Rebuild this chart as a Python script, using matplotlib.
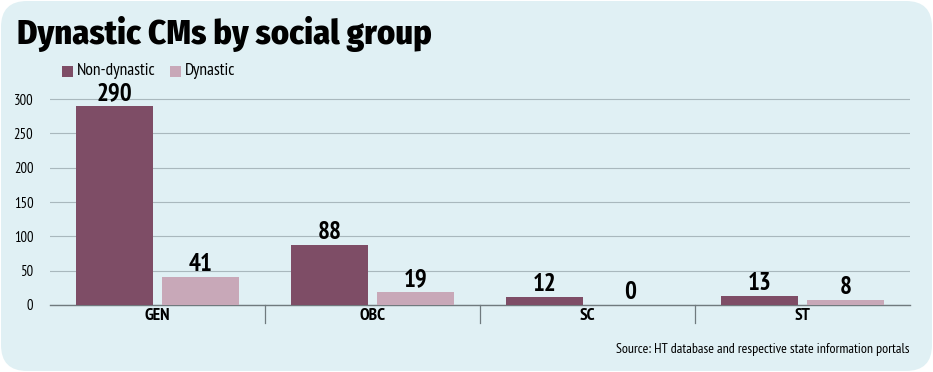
import matplotlib
matplotlib.use("Agg")
import matplotlib.pyplot as plt
from matplotlib.patches import FancyBboxPatch, Rectangle
from matplotlib import font_manager as fm
import numpy as np

categories = ["GEN", "OBC", "SC", "ST"]
non_dynastic = [290, 88, 12, 13]
dynastic = [41, 19, 0, 8]
series_names = ["Non-dynastic", "Dynastic"]
yticks = [0, 50, 100, 150, 200, 250, 300]

names = {f.name for f in fm.fontManager.ttflist}
prefs = ["PT Sans Narrow", "Fira Sans Condensed", "Roboto Condensed", "Open Sans Condensed",
         "Barlow Semi Condensed", "Asap Condensed", "Liberation Sans Narrow"]
narrow = next((p for p in prefs if p in names), "DejaVu Sans")
NARROW = [narrow, "DejaVu Sans"]
tprefs = ["Fira Sans Condensed", "Roboto Condensed", "PT Sans Narrow", "Lato"]
tfont = next((p for p in tprefs if p in names), "DejaVu Sans")

BG = "#e0f0f4"
C1 = "#7e4d66"
C2 = "#c8a8b8"

W, H = 933, 372
fig = plt.figure(figsize=(W/100, H/100), dpi=100, facecolor="white")
bgax = fig.add_axes([0, 0, 1, 1], zorder=-10)
bgax.set_xlim(0, W)
bgax.set_ylim(0, H)
bgax.axis("off")
bgax.add_patch(FancyBboxPatch((1, 1), W-2, H-2, boxstyle="round,pad=0,rounding_size=26",
                              facecolor=BG, edgecolor="none"))

ax = fig.add_axes([50/W, 1-305/H, 860/W, (305-99)/H * 330/300])
ax.set_facecolor("none")
x = np.arange(len(categories))
bw = 0.36
b1 = ax.bar(x-0.2, non_dynastic, bw, color=C1, zorder=3)
b2 = ax.bar(x+0.2, dynastic, bw, color=C2, zorder=3)
ax.set_xlim(-0.5, 3.5)
ax.set_ylim(0, 330)
ax.set_yticks(yticks)
ax.set_yticklabels([str(t) for t in yticks], fontsize=10.5, family=NARROW)
ax.tick_params(axis="y", length=0, pad=12)
ax.tick_params(axis="x", length=0, pad=2)
ax.set_xticks(x)
ax.set_xticklabels(categories, fontsize=12.5, fontweight="bold", family=NARROW)
for s in ["top", "right", "left"]:
    ax.spines[s].set_visible(False)
ax.spines["bottom"].set_color("#707a7e")
ax.spines["bottom"].set_linewidth(1.0)
ax.grid(axis="y", color="#a9b8bd", linewidth=0.8, zorder=0)
ax.set_axisbelow(True)
for xi in [0.5, 1.5, 2.5]:
    ax.plot([xi, xi], [0, -0.08], transform=ax.get_xaxis_transform(), clip_on=False,
            color="#707a7e", linewidth=0.9)

for bars, vals in [(b1, non_dynastic), (b2, dynastic)]:
    for r, v in zip(bars, vals):
        ax.text(r.get_x()+r.get_width()/2, v+1, str(v), ha="center", va="bottom",
                fontsize=18, fontweight="bold", family=NARROW, zorder=4)

fig.text(17/W, 1-34/H, "Dynastic CMs by social group", fontsize=24.8, fontweight="heavy",
         family=[tfont, "DejaVu Sans"], va="center", ha="left")

# legend
for xs, name, c in [(62, series_names[0], C1), (170, series_names[1], C2)]:
    fig.patches.append(Rectangle((xs/W, 1-77/H), 11/W, 11/H, transform=fig.transFigure,
                                 facecolor=c, edgecolor="none"))
    fig.text((xs+15)/W, 1-71/H, name, fontsize=12.5, family=NARROW, va="center", ha="left")

fig.text(910/W, 1-349/H, "Source: HT database and respective state information portals",
         fontsize=10, family=NARROW, ha="right", va="center")

fig.savefig("out.png", dpi=100, facecolor="white")
